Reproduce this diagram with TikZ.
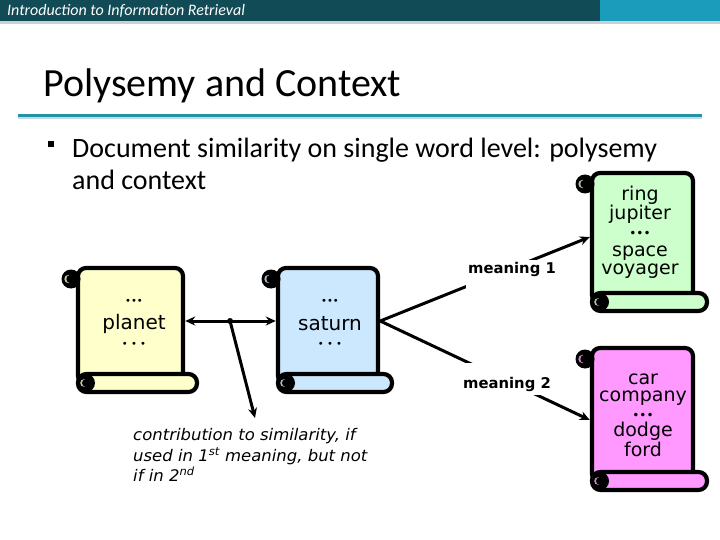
\documentclass[tikz,border=0pt]{standalone}
\usepackage{fontspec}
\setmainfont{Carlito}
\newfontfamily\dejavu{DejaVu Sans}
\newfontfamily\contribfont[FakeStretch=1.03]{DejaVu Sans}
\usetikzlibrary{arrows.meta,fit}

\definecolor{hdrdark}{HTML}{114B56}
\definecolor{hdrlight}{HTML}{1A9CBA}
\definecolor{hdrgrey}{HTML}{C9D1D5}
\definecolor{ruleteal}{HTML}{2393A8}
\definecolor{rulelight}{HTML}{C3DCE2}
\definecolor{scrollyellow}{HTML}{FFFFCC}
\definecolor{scrollblue}{HTML}{CCE8FF}
\definecolor{scrollgreen}{HTML}{CCFFCC}
\definecolor{scrollpink}{HTML}{FF99FF}

\tikzset{
  scrollline/.style={line width=4.2pt, draw=black},
  conn/.style={line width=3pt, -{Stealth[length=10pt,width=9pt]}},
  dotstxt/.style={font=\dejavu\fontsize{10}{11}\selectfont, inner sep=0pt},
  wordtxt/.style={font=\dejavu\fontsize{20}{24}\selectfont, inner sep=0pt},
  scrolltxt/.style={align=center, inner sep=0pt},
  mlabel/.style={font=\dejavu\bfseries\fontsize{14.8}{16}\selectfont, fill=white, inner sep=2pt},
}

\newcommand\drawscroll[6]{%
  \filldraw[scrollline, fill=#6, rounded corners=8pt] (#2,{#5+10}) -- (#2,#3) -- (#4,#3) -- (#4,{#5+10}) -- cycle;
  \node[fit={(#2,#3) (#4,#5)}, inner sep=2pt] (#1) {};
  \fill[black] ({#2-7},{#3+11}) circle[radius=9.5];
  \fill[#6!55!gray] ({#2-9.5},{#3+11}) circle[radius=4.2];
  \fill[black] ({#2-7.5},{#3+11}) circle[radius=4.2];
  \filldraw[scrollline, fill=#6, rounded corners=8.5pt] (#2,#5) rectangle ({#4+14},{#5+18});
  \fill[black] ({#2+8},{#5+9}) circle[radius=9];
  \fill[#6!55!gray] ({#2+6},{#5+9}) circle[radius=3.8];
  \fill[black] ({#2+7.8},{#5+9}) circle[radius=3.8];
}

\begin{document}
\begin{tikzpicture}[x=1pt,y=-1pt]
\useasboundingbox (0,0) rectangle (720,540);
\fill[white] (0,0) rectangle (720,540);

% header
\fill[hdrdark] (0,0) rectangle (600,21);
\fill[hdrlight] (600,0) rectangle (720,21);
\fill[hdrgrey] (0,21) rectangle (720,24);
\node[anchor=base west, inner sep=0, text=white, font=\itshape\fontsize{16}{18}\selectfont] (hdr) at (7,16) {Introduction to Information Retrieval};

% title
\node[anchor=base west, inner sep=0, font=\fontsize{40}{48}\selectfont] (title) at (43,97) {Polysemy and Context};
\fill[ruleteal] (18,114) rectangle (702,117);
\fill[rulelight] (18,117) rectangle (702,119);

% bullet
\node[fill=black, minimum size=6pt, inner sep=0] (bullet) at (51,144) {};
\node[anchor=base west, inner sep=0, font=\fontsize{28}{33}\selectfont] (b1) at (72,158) {Document similarity on single word level: polysemy};
\node[anchor=base west, inner sep=0, font=\fontsize{28}{33}\selectfont] (b2) at (72,190) {and context};

% scrolls
\drawscroll{planet}{78}{268}{183}{374}{scrollyellow}
\drawscroll{saturn}{278}{268}{378}{374}{scrollblue}
\drawscroll{green}{592}{173}{693}{293}{scrollgreen}
\drawscroll{pink}{592}{348}{693}{472}{scrollpink}

% scroll texts
\node[dotstxt] (pd1) at (134,301.5) {•••};
\node[wordtxt] (pw) at (134,324) {planet};
\node[dotstxt] (pd2) at (134,345) {• • •};
\node[dotstxt] (sd1) at (330,301.5) {•••};
\node[wordtxt] (sw) at (330,324) {saturn};
\node[dotstxt] (sd2) at (330,345) {• • •};

\node[scrolltxt, font=\dejavu\fontsize{19}{18.2}\selectfont] (gt) at (640,232)
  {ring\\jupiter\\{\fontsize{12}{18.2}\selectfont •••}\\space\\voyager};
\node[scrolltxt, font=\dejavu\fontsize{19}{17.6}\selectfont] (pt) at (643,415)
  {car\\company\\{\fontsize{12}{17.6}\selectfont •••}\\dodge\\ford};

% connectors
\draw[line width=3pt, {Stealth[length=10pt,width=9pt]}-{Stealth[length=10pt,width=9pt]}]
  (planet.east) -- coordinate[pos=0.495] (mid) (saturn.west);
\coordinate (ctip) at (255,418);
\fill (mid) circle[radius=3];
\draw[conn] (mid) -- (ctip);

\draw[conn] (saturn.east) -- ([yshift=-4pt]green.west);
\draw[conn] (saturn.east) -- ([yshift=-10pt]pink.west);

\node[mlabel, anchor=base, text height=11pt, text depth=17pt] (m1) at (512,273) {meaning 1};
\node[mlabel, anchor=base, text height=23pt, text depth=5pt] (m2) at (507,388) {meaning 2};

% contribution text
\node[anchor=north west, inner sep=0, align=left, font=\contribfont\itshape\fontsize{16}{20.5}\selectfont] (contrib) at (133,428.5)
  {contribution to similarity, if\\used in 1\textsuperscript{st} meaning, but not\\if in 2\textsuperscript{nd}};
\end{tikzpicture}
\end{document}
